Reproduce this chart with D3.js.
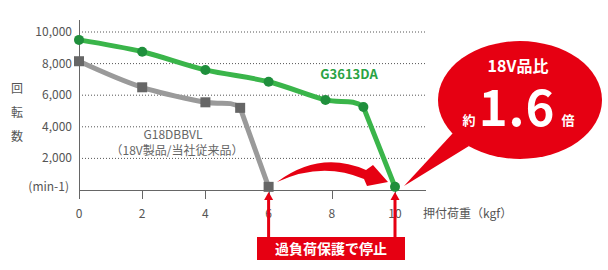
<!DOCTYPE html>
<html lang="ja">
<head>
<meta charset="UTF-8">
<script src="https://d3js.org/d3.v7.min.js"></script>
<style>
  body { margin: 0; background: #fff; }
  text { font-family: "Noto Sans CJK JP", "Noto Sans", sans-serif; }
</style>
</head>
<body>
<script>
// values
var xTicks = [0, 2, 4, 6, 8, 10];
var yTicks = [2000, 4000, 6000, 8000, 10000];
var newLoad = [0, 2, 4, 6, 7.8, 9, 10];
var newRpm = [9500, 8750, 7600, 6850, 5700, 5250, 200];
var oldLoad = [0, 2, 4, 5.1, 6];
var oldRpm = [8150, 6500, 5550, 5200, 200];
var stopLoads = [6, 10];

var svg = d3.select("body").append("svg")
    .attr("width", 608)
    .attr("height", 270);

var x = d3.scaleLinear().domain([0, 10]).range([79, 395]);
var y = d3.scaleLinear().domain([0, 10000]).range([190, 32]);
var red = "#e60012";

// grid
svg.selectAll(".grid").data(yTicks).enter().append("line")
    .attr("x1", 79).attr("x2", 426)
    .attr("y1", function(d) { return y(d); })
    .attr("y2", function(d) { return y(d); })
    .attr("stroke", "#555").attr("stroke-width", 1)
    .attr("stroke-dasharray", "1,2");

// axes
svg.append("line").attr("x1", 79.5).attr("x2", 79.5).attr("y1", 20).attr("y2", 199)
    .attr("stroke", "#666");
svg.append("line").attr("x1", 79).attr("x2", 426).attr("y1", 190.5).attr("y2", 190.5)
    .attr("stroke", "#666");
svg.selectAll(".tick").data(xTicks.slice(1)).enter().append("line")
    .attr("x1", function(d) { return Math.round(x(d)) + 0.5; })
    .attr("x2", function(d) { return Math.round(x(d)) + 0.5; })
    .attr("y1", 190).attr("y2", 199)
    .attr("stroke", "#666");

svg.selectAll(".ylab").data(yTicks).enter().append("text")
    .attr("x", 72).attr("y", function(d) { return y(d) + 4; })
    .attr("text-anchor", "end").attr("font-size", 12).attr("fill", "#555")
    .text(function(d) { return d3.format(",")(d); });
svg.append("text").attr("x", 69).attr("y", 191).attr("text-anchor", "end")
    .attr("font-size", 12).attr("fill", "#555").text("(min-1)");
svg.selectAll(".ycap").data(["回", "転", "数"]).enter().append("text")
    .attr("x", 17).attr("y", function(d, i) { return 93 + i * 24; })
    .attr("text-anchor", "middle").attr("font-size", 12).attr("fill", "#555")
    .text(function(d) { return d; });

svg.selectAll(".xlab").data(xTicks).enter().append("text")
    .attr("x", function(d) { return x(d); }).attr("y", 218)
    .attr("text-anchor", "middle").attr("font-size", 12).attr("fill", "#555")
    .text(function(d) { return d; });
svg.append("text").attr("x", 423).attr("y", 218)
    .attr("font-size", 12).attr("fill", "#555").text("押付荷重（kgf）");

// series: smooth run up to the drop, straight drop to the stop point
var smooth = d3.line().curve(d3.curveCatmullRom.alpha(0.5))
    .x(function(d) { return x(d[0]); })
    .y(function(d) { return y(d[1]); });
var straight = d3.line()
    .x(function(d) { return x(d[0]); })
    .y(function(d) { return y(d[1]); });

function drawSeries(id, pts, color) {
    var n = pts.length;
    svg.append("clipPath").attr("id", id)
        .append("rect").attr("x", 0).attr("y", 0)
        .attr("width", x(pts[n - 2][0])).attr("height", 270);
    svg.append("path").datum(pts).attr("d", smooth)
        .attr("clip-path", "url(#" + id + ")")
        .attr("fill", "none").attr("stroke", color).attr("stroke-width", 5);
    svg.append("path").datum(pts.slice(n - 2)).attr("d", straight)
        .attr("fill", "none").attr("stroke", color).attr("stroke-width", 5)
        .attr("stroke-linecap", "round");
}

var oldPts = d3.zip(oldLoad, oldRpm);
var newPts = d3.zip(newLoad, newRpm);

drawSeries("clipOld", oldPts, "#9a9a9a");
svg.selectAll(".sq").data(oldPts).enter().append("rect")
    .attr("x", function(d) { return x(d[0]) - 5; })
    .attr("y", function(d) { return y(d[1]) - 5; })
    .attr("width", 10).attr("height", 10).attr("fill", "#666");

drawSeries("clipNew", newPts, "#3ab54a");
svg.selectAll(".dot").data(newPts).enter().append("circle")
    .attr("cx", function(d) { return x(d[0]); })
    .attr("cy", function(d) { return y(d[1]); })
    .attr("r", 5).attr("fill", "#1f8f3c");

svg.append("text").attr("x", 349).attr("y", 79).attr("text-anchor", "middle")
    .attr("font-size", 13).attr("font-weight", "bold").attr("fill", "#2aa344")
    .text("G3613DA");
svg.append("text").attr("x", 173).attr("y", 139).attr("text-anchor", "middle")
    .attr("font-size", 12).attr("fill", "#666").text("G18DBBVL");
svg.append("text").attr("x", 177).attr("y", 155).attr("text-anchor", "middle")
    .attr("font-size", 12).attr("fill", "#666").text("（18V製品/当社従来品）");

// swoosh arrow from 6 to 10
svg.append("path")
    .attr("d", "M277,182 Q320,150 366,170 L373,165 L388,182 L367,186 L364,179 Q322,161 277,182 Z")
    .attr("fill", red);

// stop arrows
stopLoads.forEach(function(v) {
    var cx = x(v);
    svg.append("rect").attr("x", cx - 1.5).attr("y", 198).attr("width", 3).attr("height", 40)
        .attr("fill", red);
    svg.append("path")
        .attr("d", "M" + (cx - 4.5) + ",200 L" + cx + ",192 L" + (cx + 4.5) + ",200 Z")
        .attr("fill", red);
});
svg.append("rect").attr("x", 257).attr("y", 237).attr("width", 148).attr("height", 23)
    .attr("fill", red);
svg.append("text").attr("x", 331).attr("y", 254).attr("text-anchor", "middle")
    .attr("font-size", 14).attr("font-weight", "bold").attr("fill", "#fff")
    .text("過負荷保護で停止");

// speech bubble
svg.append("path").attr("d", "M453,133 L404,186 L469,146 Z").attr("fill", red);
svg.append("ellipse").attr("cx", 520).attr("cy", 100).attr("rx", 82).attr("ry", 59)
    .attr("fill", red);
svg.append("text").attr("x", 518).attr("y", 72).attr("text-anchor", "middle")
    .attr("font-size", 16).attr("font-weight", "bold").attr("fill", "#fff")
    .text("18V品比");
svg.append("text").attr("x", 469).attr("y", 125).attr("text-anchor", "middle")
    .attr("font-size", 13).attr("font-weight", "bold").attr("fill", "#fff").text("約");
svg.append("text").attr("x", 517).attr("y", 126).attr("text-anchor", "middle")
    .attr("font-size", 49).attr("font-weight", "bold").attr("fill", "#fff")
    .attr("letter-spacing", 1)
    .attr("font-family", "'Liberation Sans', Arial, sans-serif").text("1.6");
svg.append("text").attr("x", 568).attr("y", 125).attr("text-anchor", "middle")
    .attr("font-size", 13).attr("font-weight", "bold").attr("fill", "#fff").text("倍");
</script>
</body>
</html>
